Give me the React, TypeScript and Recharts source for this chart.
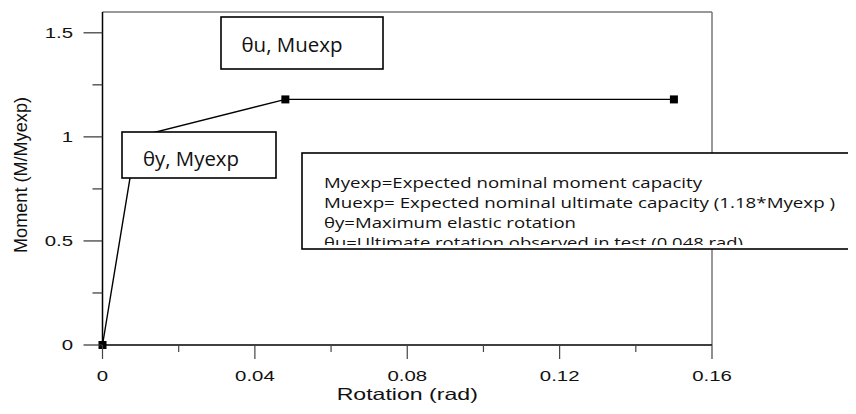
import React from "react";
import { LineChart, Line, XAxis, YAxis, ReferenceLine, Label } from "recharts";

// ---- data ----
const rotation = [0, 0.009, 0.048, 0.15];
const moment = [0, 1.0, 1.18, 1.18];
const markerShown = [true, false, true, true];

const xMajorTicks = [0, 0.04, 0.08, 0.12, 0.16];
const xMajorLabels = ["0", "0.04", "0.08", "0.12", "0.16"];
const xMinorTicks = [0.02, 0.06, 0.1, 0.14];

const yMajorTicks = [0, 0.5, 1, 1.5];
const yMajorLabels = ["0", "0.5", "1", "1.5"];
const yMinorTicks = [0.25, 0.75, 1.25];

const xDomain = [0, 0.16];
const yDomain = [0, 1.6];

const xAxisTitle = "Rotation (rad)";
const yAxisTitle = "Moment (M/Myexp)";
const ultimateLabel = "θu, Muexp";
const yieldLabel = "θy, Myexp";
const notes = [
  "Myexp=Expected nominal moment capacity",
  "Muexp= Expected nominal ultimate capacity (1.18*Myexp )",
  "θy=Maximum elastic rotation",
  "θu=Ultimate rotation observed in test (0.048 rad)",
];

const data = rotation.map((r, i) => ({
  rotation: r,
  moment: moment[i],
  marker: markerShown[i],
}));

const xTicks = [...xMajorTicks, ...xMinorTicks].sort((a, b) => a - b);
const yTicks = [...yMajorTicks, ...yMinorTicks].sort((a, b) => a - b);

// ---- styling helpers ----
const ARIAL = "'Liberation Sans', Arial, sans-serif";
const NOTE_FONT = "'Open Sans', 'Noto Sans', sans-serif";
const STRETCH = 1.36;
const near = (a: number, b: number) => Math.abs(a - b) < 1e-9;

function XTick(props: any) {
  const { x, y, payload } = props;
  const idx = xMajorTicks.findIndex((t) => near(t, payload.value));
  const major = idx >= 0;
  return (
    <g>
      <line x1={x} x2={x} y1={y} y2={y + (major ? 14 : 7)} stroke="#444" strokeWidth={1.2} />
      {major && (
        <text
          transform={`translate(${x},${y + 31}) scale(${STRETCH},1)`}
          textAnchor="middle"
          dominantBaseline="central"
          fontFamily={ARIAL}
          fontSize={15}
          fill="#111"
        >
          {xMajorLabels[idx]}
        </text>
      )}
    </g>
  );
}

function YTick(props: any) {
  const { x, y, payload } = props;
  const idx = yMajorTicks.findIndex((t) => near(t, payload.value));
  const major = idx >= 0;
  return (
    <g>
      <line x1={x - (major ? 19 : 10)} x2={x} y1={y} y2={y} stroke="#333" strokeWidth={1.2} />
      {major && (
        <text
          transform={`translate(${x - 29.5},${y}) scale(${STRETCH},1)`}
          textAnchor="end"
          dominantBaseline="central"
          fontFamily={ARIAL}
          fontSize={15}
          fill="#111"
        >
          {yMajorLabels[idx]}
        </text>
      )}
    </g>
  );
}

function XTitle(props: any) {
  const vb = props && props.viewBox ? props.viewBox : { x: 94.5, y: 337, width: 609.5, height: 61 };
  const cx = vb.x + vb.width / 2;
  const by = vb.y + 55;
  return (
    <text
      transform={`translate(${cx},${by}) scale(1.4,1)`}
      textAnchor="middle"
      fontFamily={ARIAL}
      fontSize={16.5}
      fill="#111"
    >
      {xAxisTitle}
    </text>
  );
}

function YTitle(props: any) {
  const vb = props && props.viewBox ? props.viewBox : { x: 0, y: 4, width: 94.5, height: 333 };
  const cx = vb.x + 13;
  const cy = vb.y + vb.height / 2 - 3.5;
  return (
    <text
      x={cx}
      y={cy}
      transform={`rotate(-90 ${cx} ${cy})`}
      textAnchor="middle"
      dominantBaseline="central"
      fontFamily={ARIAL}
      fontSize={18}
      textLength={156}
      lengthAdjust="spacingAndGlyphs"
      fill="#111"
    >
      {yAxisTitle}
    </text>
  );
}

const renderDot = (p: any) => {
  const { cx, cy, payload, index } = p;
  if (!payload || !payload.marker || cx == null || cy == null) return <g key={`d${index}`} />;
  return <rect key={`d${index}`} x={cx - 4} y={cy - 4} width={8} height={8} fill="#000" />;
};

const noteWidths = [378, 511, 252, 419];

export default function App() {
  return (
    <div style={{ position: "relative", width: 840, height: 398 }}>
      <style>{`.recharts-surface{overflow:visible}`}</style>
      <LineChart
        width={840}
        height={398}
        data={data}
        margin={{ top: 4, right: 136, bottom: 0, left: 0 }}
      >
        <XAxis
          dataKey="rotation"
          type="number"
          domain={xDomain}
          ticks={xTicks}
          interval={0}
          tickSize={0}
          tickMargin={0}
          tickLine={false}
          axisLine={{ stroke: "#000", strokeWidth: 1.3 }}
          tick={XTick}
          height={61}
        >
          <Label content={XTitle} />
        </XAxis>
        <YAxis
          type="number"
          domain={yDomain}
          ticks={yTicks}
          interval={0}
          tickSize={0}
          tickMargin={0}
          tickLine={false}
          axisLine={{ stroke: "#000", strokeWidth: 1.5 }}
          tick={YTick}
          width={94.5}
        >
          <Label content={YTitle} />
        </YAxis>
        <ReferenceLine y={1.6} stroke="#777" strokeWidth={1.5} ifOverflow="visible" />
        <ReferenceLine x={0.16} stroke="#777" strokeWidth={1.5} ifOverflow="visible" />
        <Line
          type="linear"
          dataKey="moment"
          stroke="#000"
          strokeWidth={1.4}
          dot={renderDot}
          activeDot={false}
          isAnimationActive={false}
        />
      </LineChart>
      <svg
        width={848}
        height={398}
        style={{ position: "absolute", left: 0, top: 0, pointerEvents: "none" }}
      >
        <defs>
          <clipPath id="notesClip">
            <rect x={294} y={145} width={560} height={92} />
          </clipPath>
        </defs>
        <rect x={213} y={9} width={162} height={52} fill="#fff" stroke="#000" strokeWidth={1.6} />
        <text
          x={233.5}
          y={44}
          fontFamily={NOTE_FONT}
          fontSize={20}
          textLength={101}
          lengthAdjust="spacingAndGlyphs"
          fill="#111"
        >
          {ultimateLabel}
        </text>
        <rect x={114} y={124} width={154} height={46} fill="#fff" stroke="#000" strokeWidth={1.6} />
        <text
          x={135}
          y={158}
          fontFamily={NOTE_FONT}
          fontSize={20}
          textLength={96}
          lengthAdjust="spacingAndGlyphs"
          fill="#111"
        >
          {yieldLabel}
        </text>
        <rect x={294} y={145} width={580} height={96} fill="#fff" stroke="#000" strokeWidth={1.6} />
        <g clipPath="url(#notesClip)">
          {notes.map((n, i) => (
            <text
              key={i}
              x={316}
              y={179.5 + 20 * i}
              fontFamily={NOTE_FONT}
              fontSize={15}
              textLength={noteWidths[i]}
              lengthAdjust="spacingAndGlyphs"
              fill="#111"
            >
              {n}
            </text>
          ))}
        </g>
      </svg>
    </div>
  );
}
